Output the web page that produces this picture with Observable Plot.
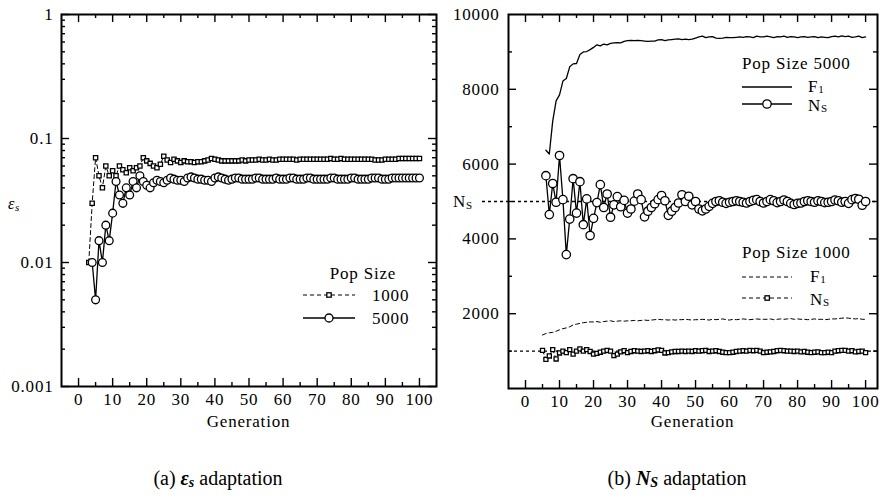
<!DOCTYPE html>
<html>
<head>
<meta charset="utf-8">
<script src="https://cdn.jsdelivr.net/npm/d3@7"></script>
<script src="https://cdn.jsdelivr.net/npm/@observablehq/plot@0.6"></script>
<style>
  body { margin: 0; background: #fff; }
  #root { position: relative; width: 885px; height: 501px; overflow: hidden; background: #fff; }
  #root svg, #root svg text { font-family: "Liberation Serif", "Times New Roman", "DejaVu Serif", serif !important; }
  #left, #right, #overlay { position: absolute; top: 0; }
  #left { left: 0; }
  #right { left: 440px; }
  #overlay { left: 0; pointer-events: none; }
</style>
</head>
<body>
<div id="root">
  <div id="left"></div>
  <div id="right"></div>
  <svg id="overlay" width="885" height="501" fill="black"></svg>
</div>
<script>
// ---------- data ----------
// (a) epsilon_s adaptation
const epsStart1000 = 3;
const eps1000 = [
  0.010, 0.030, 0.070, 0.050, 0.040, 0.060, 0.050, 0.055, 0.050, 0.060,
  0.056, 0.053, 0.058, 0.055, 0.058, 0.060, 0.070, 0.066, 0.063, 0.060,
  0.058, 0.062, 0.072, 0.067, 0.064, 0.068, 0.066, 0.064, 0.066, 0.065,
  0.065, 0.064, 0.065, 0.065, 0.066, 0.067, 0.069, 0.068, 0.067, 0.066,
  0.066, 0.066, 0.066, 0.066, 0.066, 0.067, 0.066, 0.067,
  0.067, 0.067, 0.068, 0.067, 0.067, 0.068, 0.067, 0.067, 0.068, 0.068,
  0.068, 0.068, 0.068, 0.067, 0.068, 0.068, 0.068, 0.068, 0.068, 0.068,
  0.068, 0.068, 0.068, 0.069, 0.068, 0.068, 0.069, 0.068, 0.068, 0.068,
  0.068, 0.068, 0.068, 0.068, 0.068, 0.068, 0.067, 0.067, 0.067, 0.068,
  0.068, 0.068, 0.068, 0.069, 0.069, 0.069, 0.069, 0.069, 0.069, 0.069
];
const epsStart5000 = 4;
const eps5000 = [
  0.010, 0.005, 0.015, 0.010, 0.020, 0.015, 0.025, 0.045, 0.035, 0.030,
  0.040, 0.035, 0.045, 0.040, 0.050, 0.045, 0.042, 0.040, 0.044, 0.046,
  0.045, 0.044, 0.046, 0.048, 0.047, 0.046, 0.046, 0.045, 0.048, 0.049,
  0.048, 0.047, 0.047, 0.046, 0.046, 0.045, 0.048, 0.049, 0.048, 0.047,
  0.046, 0.047, 0.048, 0.048, 0.047, 0.047, 0.047,
  0.047, 0.048, 0.048, 0.047, 0.047, 0.047, 0.047, 0.048, 0.047, 0.047,
  0.047, 0.048, 0.048, 0.047, 0.047, 0.047, 0.048, 0.048, 0.047, 0.047,
  0.047, 0.047, 0.047, 0.048, 0.048, 0.047, 0.047, 0.047, 0.047, 0.048,
  0.048, 0.047, 0.047, 0.047, 0.047, 0.048, 0.048, 0.048, 0.047, 0.047,
  0.047, 0.048, 0.048, 0.048, 0.048, 0.048, 0.048, 0.048, 0.048, 0.048
];

// (b) N_S adaptation
const f1Start5000 = 6;
const f1Pop5000 = [
  6370, 6270, 7150, 7690, 7850, 8220, 8290, 8600, 8680, 8690,
  8930, 9000, 9010, 9060, 9120, 9190, 9160, 9210, 9190, 9230,
  9240, 9250, 9240, 9280, 9300, 9310, 9300, 9310, 9300, 9290,
  9280, 9290, 9290, 9320, 9330, 9300, 9320, 9330, 9340, 9350,
  9330, 9340, 9330, 9340, 9370,
  9400, 9420, 9380, 9400, 9410, 9370, 9360, 9370, 9390, 9380,
  9380, 9390, 9400, 9390, 9410, 9400, 9380, 9420, 9400, 9400,
  9420, 9400, 9380, 9410, 9400, 9420, 9390, 9410, 9400, 9380,
  9400, 9410, 9390, 9400, 9410, 9380, 9400, 9390, 9380, 9410,
  9420, 9400, 9430, 9410, 9420, 9390, 9400, 9420, 9380, 9400
];
const nsStart5000 = 6;
const nsPop5000 = [
  5690, 4650, 5480, 4980, 6230, 5050, 3580, 4530, 5610, 4690,
  5530, 4380, 5070, 4090, 4550, 4970, 5450, 4840, 5200, 4580,
  4910, 5130, 4860, 5030, 4690, 4800, 5010, 5200, 5050, 4590,
  4740, 4840, 4940, 5050, 5160, 5020, 4630, 4740, 4840, 4960,
  5180, 5000, 5140, 4910, 5000, 4800,
  4750, 4800, 4870, 4950, 5000, 5020, 4980, 4950, 4980,
  5000, 5020, 5000, 4980, 4960, 5000, 5030, 5050, 5000, 4960,
  5000, 5050, 5020, 4970, 5000, 5040, 5000, 4950, 4920, 4950,
  4960, 5000, 5020, 5000, 4980, 5020, 5000, 4970, 4980, 5000,
  5040, 5020, 4980, 5000, 4950, 5050, 5080, 5060, 4900, 5000
];
const f1Start1000 = 5;
const f1Pop1000 = [
  1430, 1470, 1490, 1500, 1530, 1570, 1600, 1620, 1650, 1700,
  1720, 1740, 1760, 1770, 1780, 1780, 1790, 1770, 1790, 1800,
  1810, 1790, 1800, 1810, 1800, 1810,
  1810, 1820, 1810, 1820, 1830, 1820, 1830, 1840, 1850, 1840,
  1840, 1830, 1840, 1830, 1840, 1840, 1850, 1840, 1830, 1840,
  1840, 1850, 1840, 1830, 1850, 1840, 1850, 1860, 1840, 1830,
  1850, 1840, 1850, 1860, 1850, 1840, 1850, 1860, 1850, 1850,
  1850, 1860, 1840, 1850, 1860, 1850, 1860, 1870, 1850, 1860,
  1850, 1850, 1840, 1850, 1860, 1850, 1850, 1840, 1850, 1860,
  1860, 1870, 1880, 1890, 1880, 1870, 1860, 1870, 1850, 1850
];
const nsStart1000 = 5;
const nsPop1000 = [
  1020, 780, 870, 1040, 790, 950, 1000, 960, 1040, 920,
  1000, 1060, 1000, 1040, 990, 920, 940, 970, 1000, 1020,
  1000, 880, 920, 980, 1010, 960,
  990, 1010, 1000, 990, 1000, 1010, 990, 1010, 1030, 1020,
  950, 960, 980, 990, 990, 1000, 990, 1000, 990, 1010,
  1000, 1010, 1020, 990, 1000, 1010, 990, 970, 960, 960,
  970, 990, 1000, 1010, 1000, 1020, 1010, 1020, 1000, 960,
  970, 980, 990, 1010, 1020, 1010, 1000, 1000, 990, 1000,
  980, 990, 970, 960, 970, 980, 960, 960, 970, 960,
  1000, 1010, 1020, 1020, 1000, 1010, 980, 990, 1000, 960
];
const nsTargets = [5000, 1000];

// tick values / labels
const genTicks = [0, 10, 20, 30, 40, 50, 60, 70, 80, 90, 100];
const genMinorTicks = [5, 15, 25, 35, 45, 55, 65, 75, 85, 95];
const epsTicks = [0.001, 0.01, 0.1, 1];
const epsTickLabels = ["0.001", "0.01", "0.1", "1"];
const epsMinorMultipliers = [2, 3, 4, 5, 6, 7, 8, 9];
const nsTicks = [2000, 4000, 6000, 8000, 10000];
const nsTickLabels = ["2000", "4000", "6000", "8000", "10000"];
const nsMinorTicks = [1000, 3000, 5000, 7000, 9000];

// ---------- helpers ----------
const toRows = (start, vals) => vals.map((v, i) => ({gen: start + i, v}));
const epsMinorTicks = [0.001, 0.01, 0.1].flatMap(d => epsMinorMultipliers.map(m => +(d * m).toPrecision(3)));

const font = {fontFamily: "'Liberation Serif', 'Times New Roman', serif", fontSize: "17px", letterSpacing: "0.8px", background: "white", color: "black", overflow: "visible"};

function frameTicks(innerW, innerH, xMaj, xMin, yMaj, yMin) {
  const big = 8, small = 4, sw = 1.4;
  return [
    Plot.ruleX(xMaj, {x: d => d, insetTop: innerH - big, strokeWidth: sw}),
    Plot.ruleX(xMaj, {x: d => d, insetBottom: innerH - big, strokeWidth: sw}),
    Plot.ruleX(xMin, {x: d => d, insetTop: innerH - small, strokeWidth: sw}),
    Plot.ruleX(xMin, {x: d => d, insetBottom: innerH - small, strokeWidth: sw}),
    Plot.ruleY(yMaj, {y: d => d, insetRight: innerW - big, strokeWidth: sw}),
    Plot.ruleY(yMaj, {y: d => d, insetLeft: innerW - big, strokeWidth: sw}),
    Plot.ruleY(yMin, {y: d => d, insetRight: innerW - small, strokeWidth: sw}),
    Plot.ruleY(yMin, {y: d => d, insetLeft: innerW - small, strokeWidth: sw})
  ];
}

// ---------- left chart ----------
{
  const W = 440, H = 440, ml = 61, mr = 4, mt = 14, mb = 54;
  const d1000 = toRows(epsStart1000, eps1000);
  const d5000 = toRows(epsStart5000, eps5000);
  const chart = Plot.plot({
    width: W, height: H, marginLeft: ml, marginRight: mr, marginTop: mt, marginBottom: mb,
    style: font,
    x: {domain: [-5, 105]},
    y: {type: "log", domain: [0.001, 1]},
    marks: [
      Plot.line(d1000, {x: "gen", y: "v", stroke: "black", strokeWidth: 1, strokeDasharray: "4,3"}),
      Plot.dot(d1000, {x: "gen", y: "v", symbol: "square", r: 2.4, fill: "white", stroke: "black", strokeWidth: 1.3}),
      Plot.line(d5000, {x: "gen", y: "v", stroke: "black", strokeWidth: 1.3}),
      Plot.dot(d5000, {x: "gen", y: "v", r: 3.9, fill: "white", stroke: "black", strokeWidth: 1.3}),
      ...frameTicks(W - ml - mr, H - mt - mb, genTicks, genMinorTicks, epsTicks, epsMinorTicks),
      Plot.frame({stroke: "black", strokeWidth: 2}),
      Plot.axisX({ticks: genTicks, tickSize: 0, tickPadding: 6, tickFormat: d => String(d), label: null}),
      Plot.axisY({ticks: epsTicks, tickSize: 0, tickPadding: 8, tickFormat: d => epsTickLabels[epsTicks.indexOf(d)], label: null})
    ]
  });
  document.getElementById("left").appendChild(chart);
}

// ---------- right chart ----------
{
  const W = 445, H = 440, ml = 68, mr = 8, mt = 14, mb = 52;
  const f5 = toRows(f1Start5000, f1Pop5000);
  const n5 = toRows(nsStart5000, nsPop5000);
  const f1 = toRows(f1Start1000, f1Pop1000);
  const n1 = toRows(nsStart1000, nsPop1000);
  const chart = Plot.plot({
    width: W, height: H, marginLeft: ml, marginRight: mr, marginTop: mt, marginBottom: mb,
    style: font,
    x: {domain: [-5, 103.5]},
    y: {domain: [0, 10000]},
    marks: [
      Plot.ruleY([nsTargets[0]], {y: d => d, insetLeft: -26, stroke: "black", strokeWidth: 1.4, strokeDasharray: "3,3"}),
      Plot.ruleY([nsTargets[1]], {y: d => d, stroke: "black", strokeWidth: 1.4, strokeDasharray: "3,3"}),
      Plot.line(f5, {x: "gen", y: "v", stroke: "black", strokeWidth: 1.3}),
      Plot.line(f1, {x: "gen", y: "v", stroke: "black", strokeWidth: 1, strokeDasharray: "4,3"}),
      Plot.line(n1, {x: "gen", y: "v", stroke: "black", strokeWidth: 1, strokeDasharray: "4,3"}),
      Plot.dot(n1, {x: "gen", y: "v", symbol: "square", r: 2.3, fill: "white", stroke: "black", strokeWidth: 1.3}),
      Plot.line(n5, {x: "gen", y: "v", stroke: "black", strokeWidth: 1.3}),
      Plot.dot(n5, {x: "gen", y: "v", r: 4.2, fill: "white", stroke: "black", strokeWidth: 1.3}),
      ...frameTicks(W - ml - mr, H - mt - mb, genTicks, genMinorTicks, nsTicks.slice(0, 4), nsMinorTicks),
      Plot.frame({stroke: "black", strokeWidth: 2}),
      Plot.axisX({ticks: genTicks, tickSize: 0, tickPadding: 6, tickFormat: d => String(d), label: null}),
      Plot.axisY({ticks: nsTicks, tickSize: 0, tickPadding: 9, tickFormat: d => nsTickLabels[nsTicks.indexOf(d)], label: null})
    ]
  });
  document.getElementById("right").appendChild(chart);
}

// ---------- overlay: labels, legends, captions ----------
document.getElementById("overlay").innerHTML = `
  <g font-size="17" letter-spacing="0.8" dominant-baseline="central">
    <text x="248.5" y="421" text-anchor="middle">Generation</text>
    <text x="692.5" y="421" text-anchor="middle">Generation</text>
    <text x="8" y="203" font-style="italic" font-size="16">ε<tspan font-size="11" dy="4">s</tspan></text>
    <text x="453" y="201">N<tspan font-size="11" dy="4">S</tspan></text>

    <text x="363" y="273" text-anchor="middle">Pop Size</text>
    <line x1="303" x2="355" y1="295" y2="295" stroke="black" stroke-width="1" stroke-dasharray="4,3"/>
    <rect x="326.8" y="292.8" width="4.4" height="4.4" fill="white" stroke="black" stroke-width="1.3"/>
    <text x="372" y="295">1000</text>
    <line x1="303" x2="355" y1="318" y2="318" stroke="black" stroke-width="1.3"/>
    <circle cx="329" cy="318" r="4" fill="white" stroke="black" stroke-width="1.3"/>
    <text x="372" y="318">5000</text>

    <text x="742" y="63">Pop Size 5000</text>
    <line x1="742" x2="792" y1="87" y2="87" stroke="black" stroke-width="1.3"/>
    <text x="808" y="86">F<tspan font-size="11" dy="3">1</tspan></text>
    <line x1="742" x2="792" y1="104" y2="104" stroke="black" stroke-width="1.3"/>
    <circle cx="767" cy="104" r="4.2" fill="white" stroke="black" stroke-width="1.3"/>
    <text x="808" y="105">N<tspan font-size="11" dy="3">S</tspan></text>

    <text x="742" y="252">Pop Size 1000</text>
    <line x1="742" x2="792" y1="277" y2="277" stroke="black" stroke-width="1" stroke-dasharray="4,3"/>
    <text x="810" y="276">F<tspan font-size="11" dy="3">1</tspan></text>
    <line x1="742" x2="792" y1="298" y2="298" stroke="black" stroke-width="1" stroke-dasharray="4,3"/>
    <rect x="765" y="295.8" width="4.4" height="4.4" fill="white" stroke="black" stroke-width="1.3"/>
    <text x="810" y="299">N<tspan font-size="11" dy="3">S</tspan></text>
  </g>
  <g font-size="20" dominant-baseline="central">
    <text x="218" y="478" text-anchor="middle">(a) <tspan font-weight="bold" font-style="italic">ε</tspan><tspan font-weight="bold" font-style="italic" font-size="14" dy="4">s</tspan><tspan dy="-4"> adaptation</tspan></text>
    <text x="677" y="478" text-anchor="middle">(b) <tspan font-weight="bold" font-style="italic">N</tspan><tspan font-weight="bold" font-style="italic" font-size="14" dy="4">S</tspan><tspan dy="-4"> adaptation</tspan></text>
  </g>
`;
</script>
</body>
</html>
